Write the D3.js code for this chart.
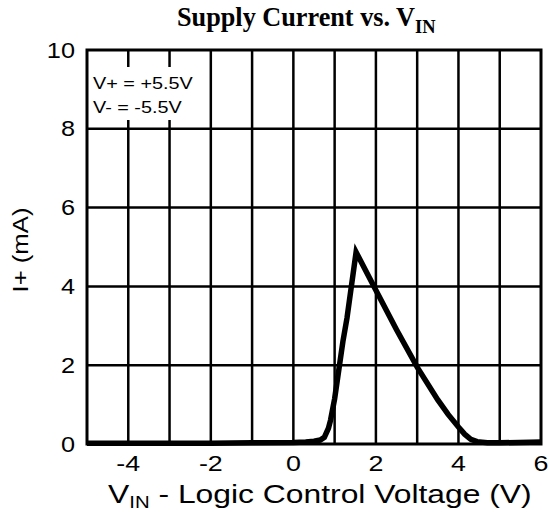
<!DOCTYPE html>
<html lang="en">
<head>
  <meta charset="UTF-8">
  <title>Supply Current vs. VIN</title>
  <style>
    body { margin: 0; background: #fff; }
    svg text { font-family: "Liberation Sans", Arial, sans-serif; fill: #000; }
    .title { font-family: "Liberation Serif", "Times New Roman", serif; font-weight: bold; }
    .grid line { stroke: #000; stroke-width: 2.5px; }
    .curve { fill: none; stroke: #000; stroke-width: 5.5px; stroke-linejoin: miter; }
  </style>
</head>
<body>
<div id="chart"></div>
<script src="https://d3js.org/d3.v7.min.js"></script>
<script>
  // supply current data
  var vin = [-5, -4, -3, -2, -1, 0, 0.3, 0.5, 0.65, 0.75, 0.85, 0.9, 1.0, 1.2, 1.3, 1.52, 2.0, 2.5, 3.0, 3.5, 3.75, 4.0, 4.15, 4.3, 4.45, 4.7, 5, 6];
  var current = [0.02, 0.02, 0.02, 0.02, 0.03, 0.04, 0.05, 0.07, 0.1, 0.17, 0.4, 0.6, 1.15, 2.6, 3.2, 4.87, 3.9, 2.9, 1.95, 1.12, 0.75, 0.43, 0.25, 0.12, 0.06, 0.03, 0.03, 0.05];
  var xTicks = [-4, -2, 0, 2, 4, 6];
  var yTicks = [0, 2, 4, 6, 8, 10];
  var legendLines = ["V+ = +5.5V", "V- = -5.5V"];

  var width = 550, height = 515;
  var plotLeft = 87, plotRight = 541, plotTop = 50, plotBottom = 444;

  var svg = d3.select("#chart").append("svg")
    .attr("width", width)
    .attr("height", height);

  var x = d3.scaleLinear().domain([-5, 6]).range([plotLeft, plotRight]);
  var y = d3.scaleLinear().domain([0, 10]).range([plotBottom, plotTop]);

  // stretch a text horizontally so it spans x0..x1
  function stretchTo(sel, x0, x1) {
    var b = sel.node().getBBox();
    var s = (x1 - x0) / b.width;
    sel.attr("transform", "translate(" + x0 + ",0) scale(" + s + ",1) translate(" + (-b.x) + ",0)");
  }

  // grid
  var grid = svg.append("g").attr("class", "grid");
  grid.selectAll(".v").data(d3.range(-4, 6))
    .enter().append("line")
    .attr("x1", function(d) { return x(d); })
    .attr("x2", function(d) { return x(d); })
    .attr("y1", plotTop).attr("y2", plotBottom);
  grid.selectAll(".h").data(d3.range(2, 10, 2))
    .enter().append("line")
    .attr("x1", plotLeft).attr("x2", plotRight)
    .attr("y1", function(d) { return y(d); })
    .attr("y2", function(d) { return y(d); });

  // white box behind the supply note
  svg.append("rect")
    .attr("x", plotLeft + 2).attr("y", 67)
    .attr("width", 110).attr("height", 53)
    .attr("fill", "#fff");

  svg.selectAll(".note").data(legendLines)
    .enter().append("text")
    .attr("transform", function(d, i) { return "translate(" + (plotLeft + 6) + "," + (89 + i * 23.5) + ") scale(1.24,1)"; })
    .style("font-size", "16px")
    .text(function(d) { return d; });

  // frame
  svg.append("rect")
    .attr("x", plotLeft).attr("y", plotTop)
    .attr("width", plotRight - plotLeft).attr("height", plotBottom - plotTop)
    .attr("fill", "none").attr("stroke", "#000").attr("stroke-width", 3);

  // curve
  var pts = vin.map(function(v, i) { return [v, current[i]]; });
  var line = d3.line()
    .x(function(d) { return x(d[0]); })
    .y(function(d) { return y(d[1]); });
  svg.append("path").attr("class", "curve").attr("d", line(pts));

  // tick labels
  svg.selectAll(".xt").data(xTicks)
    .enter().append("text")
    .attr("transform", function(d) { return "translate(" + x(d) + ",471) scale(1.22,1)"; })
    .attr("text-anchor", "middle")
    .style("font-size", "22px")
    .text(function(d) { return d; });

  svg.selectAll(".yt").data(yTicks)
    .enter().append("text")
    .attr("transform", function(d) { return "translate(75," + (y(d) + 7.5) + ") scale(1.15,1)"; })
    .attr("text-anchor", "end")
    .style("font-size", "22px")
    .text(function(d) { return d; });

  // axis titles
  var xl = svg.append("text")
    .attr("x", 0).attr("y", 503)
    .style("font-size", "25px");
  xl.append("tspan").text("V");
  xl.append("tspan").attr("dy", 5).style("font-size", "16px").text("IN");
  xl.append("tspan").attr("dy", -5).text(" - Logic Control Voltage (V)");
  stretchTo(xl, 108, 532);

  svg.append("text")
    .attr("transform", "translate(28,250) rotate(-90)")
    .attr("text-anchor", "middle")
    .attr("textLength", 85)
    .attr("lengthAdjust", "spacingAndGlyphs")
    .style("font-size", "22px")
    .text("I+ (mA)");

  var t = svg.append("text")
    .attr("class", "title")
    .attr("x", 0).attr("y", 26)
    .style("font-size", "27px");
  t.append("tspan").text("Supply Current vs. V");
  t.append("tspan").attr("dy", 7).style("font-size", "19px").text("IN");
  stretchTo(t, 177, 436);
</script>
</body>
</html>
